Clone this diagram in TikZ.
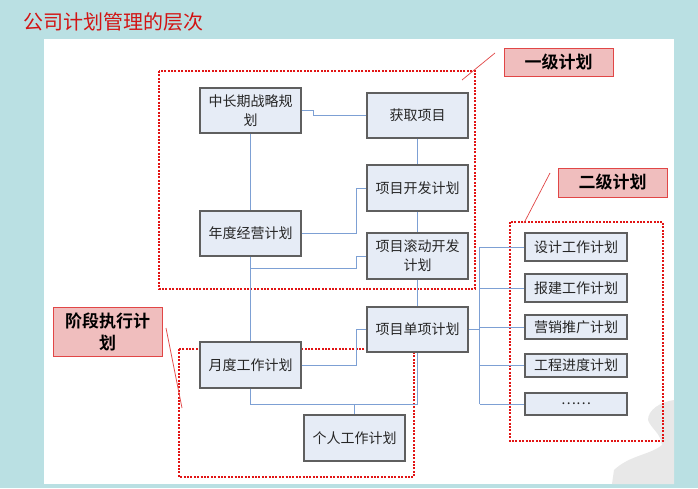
\documentclass[tikz,border=0pt]{standalone}
\usepackage{fontspec}
\newfontfamily\cjk{Noto Sans CJK SC}
\newfontfamily\cjkb{Noto Sans CJK SC Bold}
\definecolor{bgteal}{RGB}{186,224,227}
\definecolor{boxfill}{RGB}{230,236,246}
\definecolor{boxline}{RGB}{95,95,95}
\definecolor{conncol}{RGB}{125,160,212}
\definecolor{reddot}{RGB}{225,20,20}
\definecolor{lblfill}{RGB}{240,190,190}
\definecolor{lblline}{RGB}{225,70,70}
\definecolor{titlered}{RGB}{210,20,20}
\definecolor{wm}{RGB}{232,232,232}
\tikzset{
  pbox/.style={draw=boxline, fill=boxfill, line width=1.2pt, minimum width=101pt,
    minimum height=45pt, inner sep=1pt, align=center, font=\cjk\fontsize{14}{19}\selectfont,
    text=black!85},
  rbox/.style={pbox, minimum width=102pt},
  conn/.style={draw=conncol, line width=1pt},
  region/.style={draw=reddot, line width=2.2pt, dash pattern=on 2pt off 1.4pt},
  lbl/.style={draw=lblline, fill=lblfill, line width=1pt, align=center,
    font=\cjkb\fontsize{17}{22}\selectfont, text=black, inner sep=1pt},
  leader/.style={draw=lblline, line width=0.7pt}
}
\begin{document}
\begin{tikzpicture}[x=1pt,y=-1pt]
\useasboundingbox (0,0) rectangle (698,488);
\fill[bgteal] (0,0) rectangle (698,488);
\fill[white] (44,39) rectangle (674,484);
% watermark
\fill[wm] (674,400) .. controls (660,402) and (648,410) .. (648,420)
  .. controls (652,430) and (660,432) .. (662,445)
  .. controls (650,455) and (630,455) .. (614,470)
  -- (612,484) -- (674,484) -- cycle;
\node[anchor=west, text=titlered, font=\cjk\fontsize{20}{24}\selectfont, inner sep=0pt] (title) at (23,22) {公司计划管理的层次};

% regions
\draw[region] (159,71) rectangle (475,289);
\draw[region] (510,222) rectangle (663,441);
\draw[region] (179,349) rectangle (414,477);

% boxes
\node[pbox] (ml) at (250.5,110.5) {中长期战略规\\划};
\node[pbox] (nd) at (250.5,233.5) {年度经营计划};
\node[pbox] (hq) at (417.5,115.5) {获取项目};
\node[pbox, minimum height=46pt] (kf) at (417.5,188) {项目开发计划};
\node[pbox, minimum height=46pt] (gd) at (417.5,256) {项目滚动开发\\计划};
\node[pbox] (dx) at (417.5,329.5) {项目单项计划};
\node[pbox, minimum height=46pt] (yd) at (250.5,365) {月度工作计划};
\node[pbox, minimum height=46pt] (gr) at (354.5,438) {个人工作计划};
\node[rbox, minimum height=28pt] (r1) at (576,247) {设计工作计划};
\node[rbox, minimum height=28pt] (r2) at (576,288) {报建工作计划};
\node[rbox, minimum height=24pt] (r3) at (576,327) {营销推广计划};
\node[rbox, minimum height=23pt] (r4) at (576,365.5) {工程进度计划};
\node[rbox, minimum height=22pt] (r5) at (576,404) {……};

% connectors
\draw[conn] (ml.east) -- ++(12,0) |- (hq.west);
\draw[conn] (ml.south) -- (nd.north);
\draw[conn] (hq.south) -- (kf.north);
\draw[conn] (kf.south) -- (gd.north);
\draw[conn] (gd.south) -- (dx.north);
\draw[conn] (nd.east) -- ++(55,0) |- (kf.west);
\draw[conn] (nd.south) -- (yd.north);
\coordinate (a) at (250.5,268);
\draw[conn] (a) -- ++(105.5,0) |- (gd.west);
\draw[conn] (yd.east) -- ++(55,0) |- (dx.west);
\draw[conn] (yd.south) -- ++(0,16) -| (dx.south);
\coordinate (b) at (354.5,404);
\draw[conn] (b) -- (gr.north);
\draw[conn] (dx.east) -- ++(11,0) coordinate (bus);
\draw[conn] (bus |- r1.west) -- (bus |- r5.west);
\foreach \r in {r1,r2,r3,r4,r5} {\draw[conn] (bus |- \r.west) -- (\r.west);}

% labels
\node[lbl, minimum width=109pt, minimum height=28pt] (l1) at (558.5,62) {一级计划};
\node[lbl, minimum width=109pt, minimum height=29pt] (l2) at (612.5,182.5) {二级计划};
\node[lbl, minimum width=109pt, minimum height=49pt] (l3) at (107.5,331.5) {阶段执行计\\划};
\coordinate (l1a) at (495,53); \coordinate (l1b) at (462,80);
\coordinate (l2a) at (550,173); \coordinate (l2b) at (524,223);
\coordinate (l3a) at (166,328); \coordinate (l3b) at (182,408);
\draw[leader] (l1a) -- (l1b);
\draw[leader] (l2a) -- (l2b);
\draw[leader] (l3a) -- (l3b);
\end{tikzpicture}
\end{document}
